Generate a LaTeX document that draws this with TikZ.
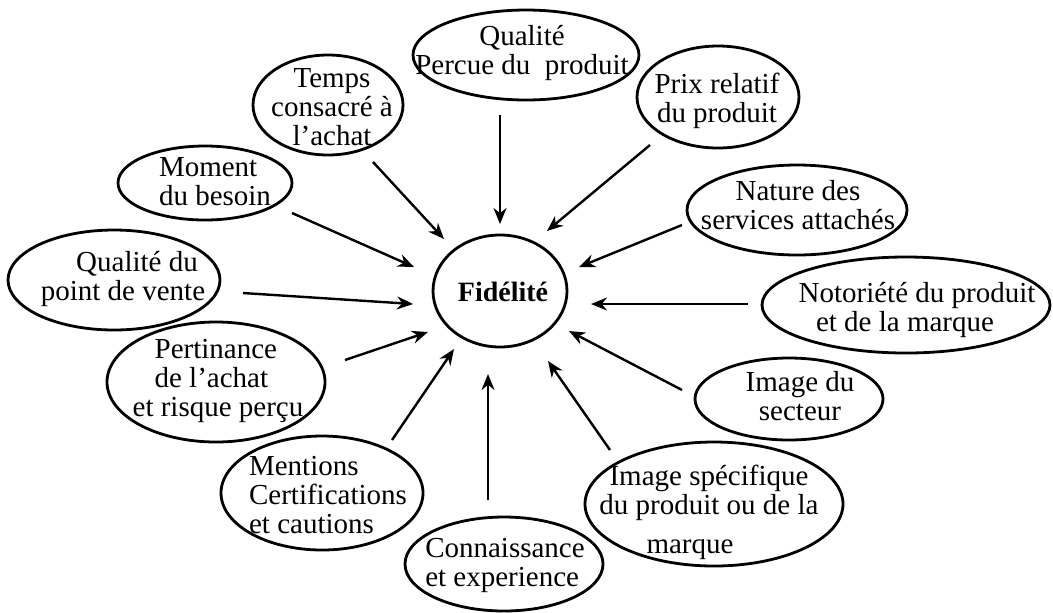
\documentclass[tikz,border=0pt]{standalone}
\usepackage{fontspec}
\setmainfont{Liberation Serif}
\usetikzlibrary{shapes.geometric,arrows.meta}
\begin{document}
\begin{tikzpicture}[x=0.5pt,y=-0.5pt,
  ell/.style={ellipse, draw, line width=1.4pt, inner sep=0pt},
  txt/.style={inner sep=0pt, align=center, font=\fontsize{14.5}{14.5}\selectfont},
  arr/.style={-{Stealth[length=8pt,width=6.5pt]}, line width=1.2pt}]
\fill[white] (0,0) rectangle (1053,612);
\useasboundingbox (0,0) rectangle (1053,612);

% centre
\node[ell, minimum width=67pt, minimum height=56pt] (fid) at (500,291) {};
\node[txt, font=\fontsize{14}{14}\selectfont\bfseries] (fidt) at (503,292) {Fidélité};

% ellipses
\node[ell, minimum width=113pt, minimum height=45pt] (qp) at (526,55) {};
\node[ell, minimum width=75pt,  minimum height=50pt] (tp) at (328,105) {};
\node[ell, minimum width=87pt,  minimum height=37pt] (mo) at (205,183) {};
\node[ell, minimum width=106pt, minimum height=50pt] (qv) at (114,280) {};
\node[ell, minimum width=109pt, minimum height=60pt] (pe) at (216,382) {};
\node[ell, minimum width=101pt, minimum height=57pt] (me) at (322,493) {};
\node[ell, minimum width=99pt,  minimum height=47pt] (co) at (504,564) {};
\node[ell, minimum width=129pt, minimum height=62pt] (is) at (714,504) {};
\node[ell, minimum width=94pt,  minimum height=41pt] (se) at (789,399) {};
\node[ell, minimum width=144pt, minimum height=48pt] (no) at (906,305) {};
\node[ell, minimum width=110pt, minimum height=45pt] (na) at (797,210) {};
\node[ell, minimum width=81pt,  minimum height=51pt] (pr) at (718,97) {};

% texts
\node[txt] (qpt) at (522,53) {Qualité\\Percue du\ \ produit};
\node[txt] (tpt) at (332,107) {Temps\\consacré à\\l'achat};
\node[txt, align=left] (mot) at (215,182) {Moment\\du besoin};
\node[txt] (qvt) at (123,279) {\hspace*{14pt}Qualité du\\point de vente};
\node[txt, align=left] (pet) at (218,381) {\hspace*{11pt}Pertinance\\\hspace*{11pt}de l'achat\\et risque perçu};
\node[txt, align=left] (met) at (328,495) {Mentions\\Certifications\\et cautions};
\node[txt, align=left] (cot) at (505,565) {Connaissance\\et experience};
\node[txt] (ist) at (709,512) {Image spécifique\\du produit ou de la\\[5pt]\hspace*{-19pt}marque};
\node[txt] (set) at (800,396) {Image du\\secteur};
\node[txt] (not) at (905,310) {\hspace*{12pt}Notoriété du produit\\et de la marque};
\node[txt] (nat) at (798,205) {Nature des\\services attachés};
\node[txt] (prt) at (717,101) {Prix relatif\\du produit};

% arrow end points
\coordinate (s1) at (500,115);  \coordinate (e1) at (500,224);
\coordinate (s2) at (373,162);  \coordinate (e2) at (444,239);
\coordinate (s3) at (292,213);  \coordinate (e3) at (414,267);
\coordinate (s4) at (243,293);  \coordinate (e4) at (413,304);
\coordinate (s5) at (345,360);  \coordinate (e5) at (428,332);
\coordinate (s6) at (392,440);  \coordinate (e6) at (454,349);
\coordinate (s7) at (488,500);  \coordinate (e7) at (488,374);
\coordinate (s8) at (610,450);  \coordinate (e8) at (548,361);
\coordinate (s9) at (682,390);  \coordinate (e9) at (569,331);
\coordinate (s10) at (748,304); \coordinate (e10) at (591,304);
\coordinate (s11) at (682,225); \coordinate (e11) at (579,267);
\coordinate (s12) at (650,145); \coordinate (e12) at (547,231);

\foreach \i in {1,...,12}{\draw[arr] (s\i) -- (e\i);}
\end{tikzpicture}
\end{document}
